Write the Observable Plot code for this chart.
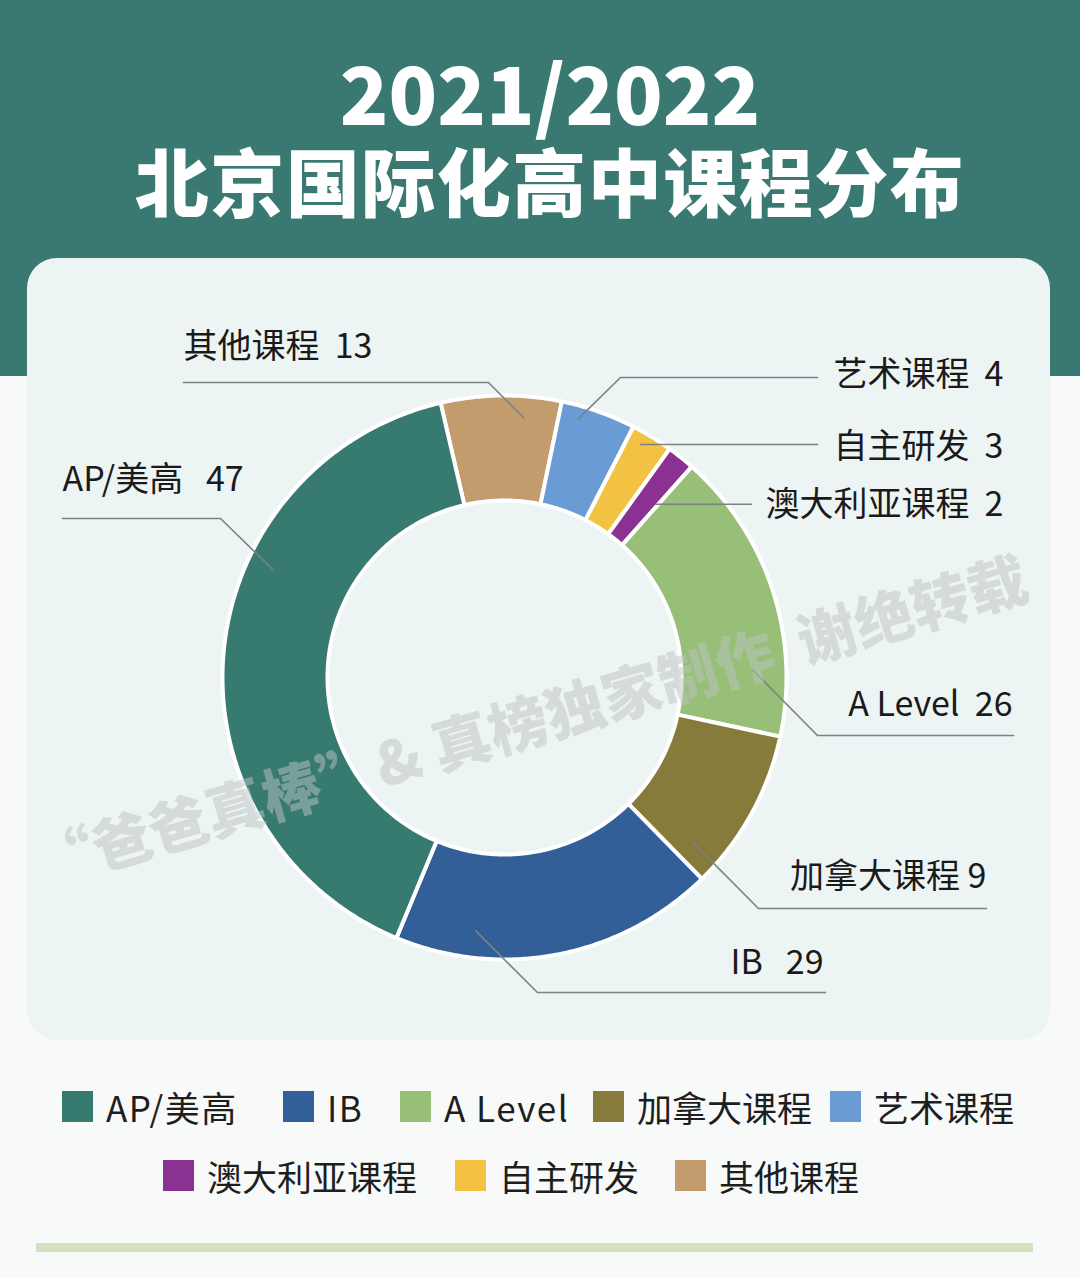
<!DOCTYPE html>
<html>
<head>
<meta charset="utf-8">
<script src="https://cdn.jsdelivr.net/npm/d3@7"></script>
<script src="https://cdn.jsdelivr.net/npm/@observablehq/plot@0.6"></script>
<style>
  html, body { margin: 0; padding: 0; }
  body { background: #f7faf9; font-family: "Noto Sans CJK SC", "Noto Sans", sans-serif; }
  #page { position: relative; width: 1080px; height: 1278px; overflow: hidden; background: #f7faf9; }
  #header { position: absolute; left: 0; top: 0; width: 1080px; height: 376px; background: #397971; }
  .title { position: absolute; left: 0; width: 1100px; text-align: center; color: #fff; font-weight: 900; line-height: 1; white-space: nowrap; }
  #t1 { top: 50px; height: 80px; font-size: 80px; }
  #t2 { top: 142px; height: 74px; font-size: 74px; letter-spacing: 1.5px; }
  #card { position: absolute; left: 27px; top: 258px; width: 1023px; height: 782px; border-radius: 30px; background: #edf4f4; }
  #chart { position: absolute; left: 0; top: 258px; width: 1080px; height: 782px; }
  #chart svg text { white-space: pre; }
  #watermark { position: absolute; left: 530px; top: 718px; transform: translate(-50%, -50%) rotate(-16.3deg); font-size: 59px; font-weight: 900; color: rgb(190,196,196); opacity: 0.5; white-space: pre; pointer-events: none; }
  .item { position: absolute; display: flex; align-items: center; gap: 13px; font-size: 35px; color: #1e1e1e; line-height: 1; white-space: nowrap; }
  .sw { width: 31px; height: 31px; }
  #bar { position: absolute; left: 36px; top: 1243px; width: 997px; height: 9px; background: #d4e0c0; }
</style>
</head>
<body>
<div id="page">
  <div id="header"></div>
  <div class="title" id="t1">2021/2022</div>
  <div class="title" id="t2">北京国际化高中课程分布</div>
  <div id="card"></div>
  <div id="chart"></div>
  <div id="watermark">“爸爸真棒”&amp; 真榜独家制作  谢绝转载</div>
  <div id="legend"></div>
  <div id="bar"></div>
</div>
<script>
// ---- data ----
const categories = ["AP/美高", "IB", "A Level", "加拿大课程", "艺术课程", "澳大利亚课程", "自主研发", "其他课程"];
const counts     = [47, 29, 26, 9, 4, 2, 3, 13];
// slice shares (%) as drawn in the reference donut
const shares     = [40.1, 18.6, 16.8, 9.3, 4.3, 1.6, 2.4, 6.9];
const colors     = ["#367a70", "#335f98", "#97bf77", "#867b3a", "#6a9bd5", "#8b3191", "#f3c243", "#c39c6e"];
// clockwise drawing order, starting at the angle below (degrees from 12 o'clock)
const sliceOrder = ["其他课程", "艺术课程", "自主研发", "澳大利亚课程", "A Level", "加拿大课程", "IB", "AP/美高"];
const legendRow1 = ["AP/美高", "IB", "A Level", "加拿大课程", "艺术课程"];
const legendRow2 = ["澳大利亚课程", "自主研发", "其他课程"];

// ---- layout ----
const startAngle = -13.1;
const R = 282, r0 = 177;
const labelLayout = [
  {name: "其他课程",     gap: "  ",  at: 0.70, r: 260, elbow: [-16, -295], end: -321, anchor: "start", tx: -321, ty: -330},
  {name: "艺术课程",     gap: "  ",  at: 0.27, r: 269, elbow: [116, -300], end: 313,  anchor: "end",   tx: 499,  ty: -302},
  {name: "自主研发",     gap: "  ",  at: 0.36, r: 270, elbow: null,        end: 313,  anchor: "end",   tx: 499,  ty: -230},
  {name: "澳大利亚课程", gap: "  ",  at: 0.91, r: 230, elbow: null,        end: 247,  anchor: "end",   tx: 499,  ty: -172},
  {name: "A Level",      gap: "  ",  at: 0.77, r: 248, elbow: [313, 58],   end: 509,  anchor: "end",   tx: 508,  ty: 28},
  {name: "加拿大课程",   gap: " ",   at: 0.87, r: 251, elbow: [254, 231],  end: 482,  anchor: "end",   tx: 482,  ty: 200},
  {name: "IB",           gap: "   ", at: 0.76, r: 255, elbow: [33, 315],   end: 321,  anchor: "end",   tx: 319,  ty: 286},
  {name: "AP/美高",      gap: "   ", at: 0.64, r: 255, elbow: [-284, -159], end: -442, anchor: "start", tx: -442, ty: -197}
];
const legendLayout = {row1: {top: 1089, xs: [62, 283, 400, 593, 830]}, row2: {top: 1158, xs: [163, 455, 675]}};

// ---- geometry from data ----
const rad = d => d * Math.PI / 180;
const pt = (ang, rr) => ({x: rr * Math.sin(rad(ang)), y: -rr * Math.cos(rad(ang))});
let acc = startAngle;
const slices = sliceOrder.map(name => {
  const i = categories.indexOf(name);
  const span = shares[i] / 100 * 360;
  const s = {name, a0: acc, a1: acc + span, count: counts[i]};
  acc += span;
  return s;
});
const ringPts = slices.flatMap(s => {
  const n = Math.max(2, Math.ceil((s.a1 - s.a0) / 0.5));
  const outer = d3.range(n + 1).map(k => ({name: s.name, ...pt(s.a0 + (s.a1 - s.a0) * k / n, R)}));
  const inner = d3.range(n + 1).map(k => ({name: s.name, ...pt(s.a1 - (s.a1 - s.a0) * k / n, r0)}));
  return [...outer, ...inner];
});
const leaderPts = labelLayout.flatMap(L => {
  const s = slices.find(d => d.name === L.name);
  const p0 = pt(s.a0 + (s.a1 - s.a0) * L.at, L.r);
  const pts = [{name: L.name, ...p0}];
  if (L.elbow) {
    pts.push({name: L.name, x: L.elbow[0], y: L.elbow[1]});
    pts.push({name: L.name, x: L.end, y: L.elbow[1]});
  } else {
    pts.push({name: L.name, x: L.end, y: p0.y});
  }
  return pts;
});
const labelRows = labelLayout.map(L => {
  const i = categories.indexOf(L.name);
  return {name: L.name, anchor: L.anchor, x: L.tx, y: L.ty, text: `${L.name}${L.gap}${counts[i]}`};
});

const textStyle = {fontSize: 34, fontFamily: "Noto Sans CJK SC", fill: "#1a1a1a", lineAnchor: "middle"};

const chart = Plot.plot({
  width: 1080,
  height: 782,
  margin: 0,
  style: {background: "transparent", overflow: "visible"},
  x: {domain: [-504, 576], range: [0, 1080], axis: null},
  y: {domain: [-419, 363], range: [0, 782], axis: null},
  color: {domain: categories, range: colors},
  marks: [
    Plot.line(ringPts, {x: "x", y: "y", z: "name", fill: "name", stroke: "#ffffff", strokeWidth: 4, curve: "linear-closed"}),
    Plot.line(leaderPts, {x: "x", y: "y", z: "name", stroke: "#7a8282", strokeWidth: 1.6}),
    Plot.text(labelRows.filter(d => d.anchor === "start"), {x: "x", y: "y", text: "text", textAnchor: "start", ...textStyle}),
    Plot.text(labelRows.filter(d => d.anchor === "end"), {x: "x", y: "y", text: "text", textAnchor: "end", ...textStyle})
  ]
});
document.getElementById("chart").appendChild(chart);

// ---- legend ----
const legendEl = document.getElementById("legend");
function fillRow(names, cfg) {
  names.forEach((n, k) => {
    const i = categories.indexOf(n);
    const item = document.createElement("div");
    item.className = "item";
    item.style.left = cfg.xs[k] + "px";
    item.style.top = cfg.top + "px";
    const sw = document.createElement("div");
    sw.className = "sw";
    sw.style.background = colors[i];
    const lab = document.createElement("span");
    lab.textContent = n;
    if (/^[A-Za-z]/.test(n)) lab.style.letterSpacing = "1.5px";
    item.appendChild(sw);
    item.appendChild(lab);
    legendEl.appendChild(item);
  });
}
fillRow(legendRow1, legendLayout.row1);
fillRow(legendRow2, legendLayout.row2);
</script>
</body>
</html>
